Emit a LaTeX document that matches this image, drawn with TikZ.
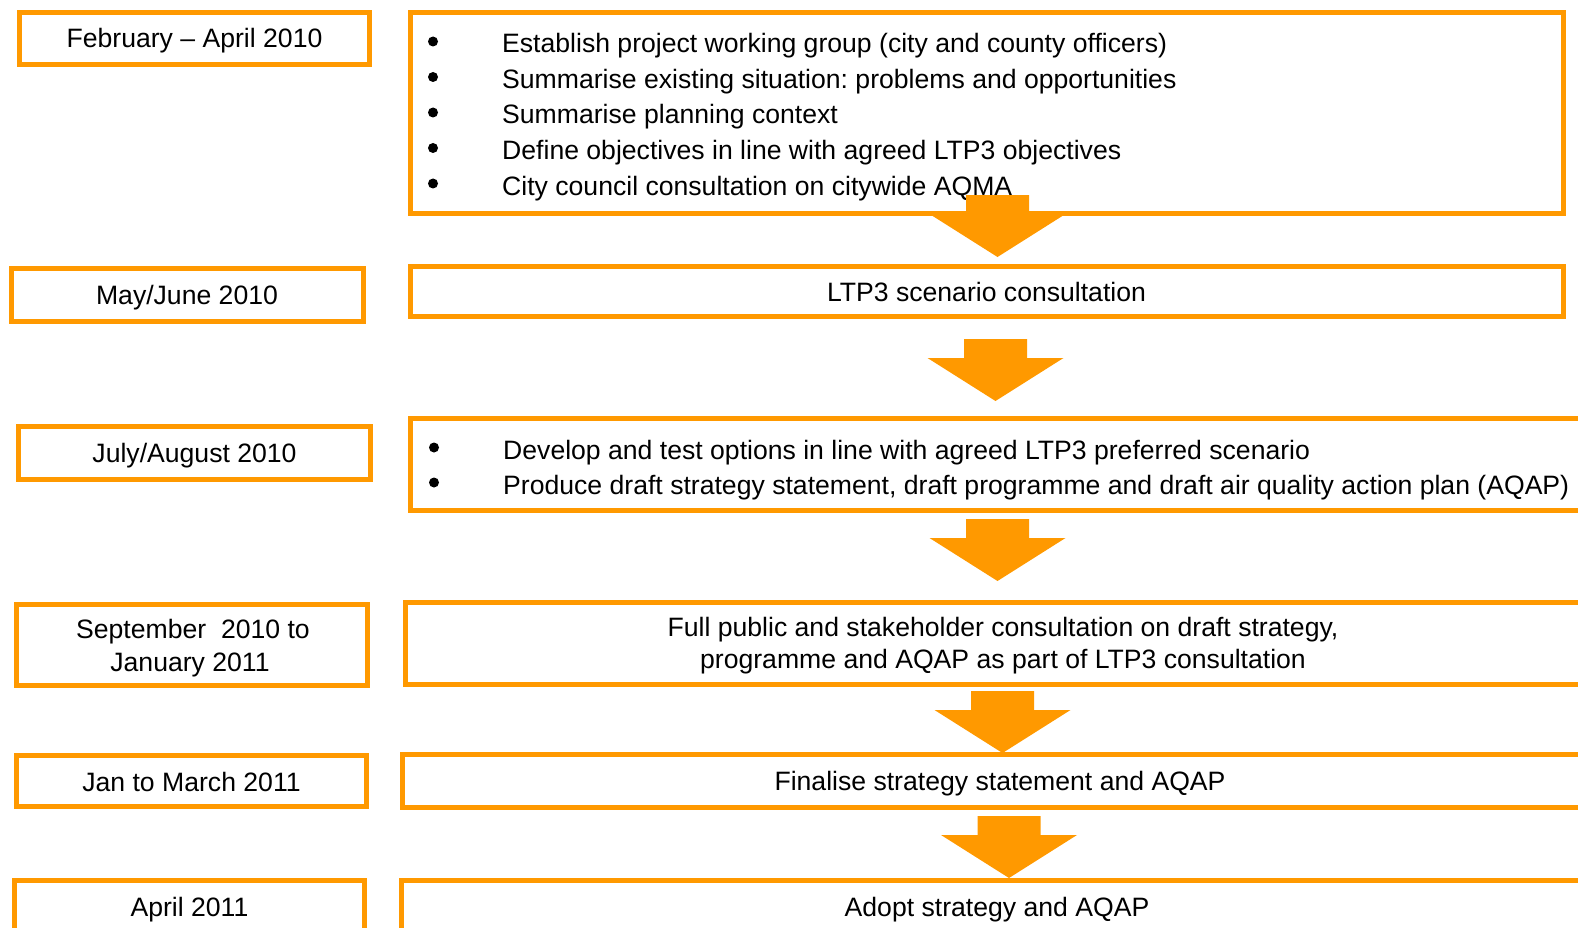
\documentclass[tikz,border=0pt]{standalone}
\usepackage{fontspec}
\setmainfont{Liberation Sans}
\frenchspacing
\definecolor{stageorange}{RGB}{255,153,0}
\tikzset{
  stagebox/.style={draw=stageorange, line width=5pt, inner sep=0pt},
  stagetext/.style={anchor=base, inner sep=0pt, font=\fontsize{26.6}{33}\selectfont},
  bullettext/.style={stagetext, anchor=base west},
}
% block arrow: centre x, top y
\def\stagearrow(#1,#2){\fill[stageorange] (#1-31.5,#2) -- (#1+31.5,#2) -- (#1+31.5,#2+19) -- (#1+68,#2+19) -- (#1,#2+62) -- (#1-68,#2+19) -- (#1-31.5,#2+19) -- cycle;}

\begin{document}
\begin{tikzpicture}[x=1pt, y=-1pt]
	\useasboundingbox (0,0) rectangle (1578,928);
	\clip (0,0) rectangle (1578,928);
	
	%%%%% DATE BOXES %%%%%
	\node[stagebox, minimum width=350pt, minimum height=52pt] (feb) at (194.5,38.5) {};
	\node[stagebox, minimum width=352pt, minimum height=53pt] (may) at (187,294.5) {};
	\node[stagebox, minimum width=352pt, minimum height=53pt] (jul) at (194.5,453) {};
	\node[stagebox, minimum width=351pt, minimum height=81pt] (sep) at (192,645) {};
	\node[stagebox, minimum width=350pt, minimum height=51.5pt] (jan) at (191.5,781) {};
	\node[stagebox, minimum width=350pt, minimum height=79.5pt] (apr) at (189.5,920.25) {};
	
	\node[stagetext] (febtxt) at (194.5,48) {February – April 2010};
	\node[stagetext] (maytxt) at (187,304) {May/June 2010};
	\node[stagetext] (jultxt) at (194.5,462.5) {July/August 2010};
	\node[stagetext] (septxta) at (193,638) {September~ 2010 to};
	\node[stagetext] (septxtb) at (190,671) {January 2011};
	\node[stagetext] (jantxt) at (191.5,791) {Jan to March 2011};
	\node[stagetext] (aprtxt) at (189.5,916) {April 2011};
	
	%%%%% TASK BOXES %%%%%
	\node[stagebox, minimum width=1153pt, minimum height=200.5pt] (febtask) at (986.5,112.75) {};
	\node[stagebox, minimum width=1153pt, minimum height=50pt] (maytask) at (986.5,291) {};
	\node[stagebox, minimum width=1209.5pt, minimum height=92.5pt] (jultask) at (1015.25,464.25) {};
	\node[stagebox, minimum width=1196pt, minimum height=82pt] (septask) at (1003,643) {};
	\node[stagebox, minimum width=1196pt, minimum height=53pt] (jantask) at (1000,780.5) {};
	\node[stagebox, minimum width=1190.5pt, minimum height=80pt] (aprtask) at (996.75,920) {};
	
	\foreach \y/\txt [count=\i] in {53/Establish project working group (city and county officers),
		88.5/Summarise existing situation: problems and opportunities,
		124/Summarise planning context,
		159.5/Define objectives in line with agreed LTP3 objectives,
		195/City council consultation on citywide AQMA}{
		\fill (433,\y-11.5) circle (5);
		\node[bullettext] (febitem\i) at (502,\y) {\txt};
	}
	
	\node[stagetext] (maytasktxt) at (986.5,301) {LTP3 scenario consultation};
	
	\foreach \y/\txt [count=\i] in {459/Develop and test options in line with agreed LTP3 preferred scenario,
		494/Produce draft strategy statement{,} draft programme and draft air quality action plan (AQAP)}{
		\fill (434,\y-11.5) circle (5);
		\node[bullettext] (julitem\i) at (503,\y) {\txt};
	}
	
	\node[stagetext] (septasktxta) at (1003,636) {Full public and stakeholder consultation on draft strategy,};
	\node[stagetext] (septasktxtb) at (1003,668.5) {programme and AQAP as part of LTP3 consultation};
	\node[stagetext] (jantasktxt) at (1000,790) {Finalise strategy statement and AQAP};
	\node[stagetext] (aprtasktxt) at (997,916) {Adopt strategy and AQAP};
	
	%%%%% ARROWS %%%%%
	\stagearrow(997.5,195)
	\stagearrow(995.5,339)
	\stagearrow(997.5,519)
	\stagearrow(1002.5,691)
	\stagearrow(1009,816)
	
\end{tikzpicture}
\end{document}
